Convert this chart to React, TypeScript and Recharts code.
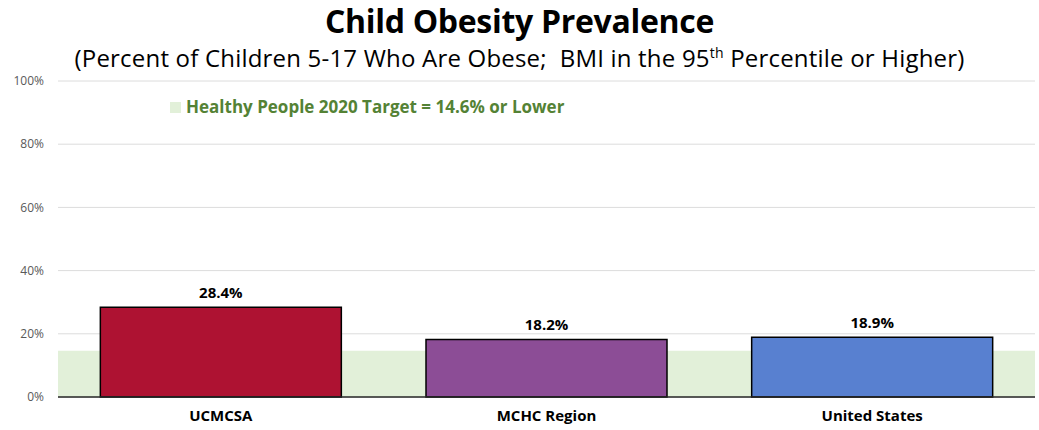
import { BarChart, Bar, Cell, XAxis, YAxis, CartesianGrid, ReferenceArea, LabelList } from 'recharts'

const categories = ['UCMCSA', 'MCHC Region', 'United States']
const prevalence = [28.4, 18.2, 18.9]
const yTicks = [0, 20, 40, 60, 80, 100]
const targetValue = 14.6
const targetLabel = 'Healthy People 2020 Target = 14.6% or Lower'

const BAR_COLORS = ['#AE1232', '#8C4D96', '#5880D0']
const FONT = '"Open Sans", "Noto Sans", sans-serif'

const data = categories.map((name, i) => ({ name, value: prevalence[i] }))

export default function App() {
  return (
    <div style={{ position: 'absolute', left: 0, top: 0, width: 1039, height: 430, background: '#fff', fontFamily: FONT }}>
      <div style={{ position: 'absolute', top: 0, left: 0, width: 1039, textAlign: 'center', fontSize: 32, fontWeight: 700, color: '#000', lineHeight: '42px', letterSpacing: -0.3 }}>
        Child Obesity Prevalence
      </div>
      <div style={{ position: 'absolute', top: 42, left: 0, width: 1039, textAlign: 'center', fontSize: 24, color: '#000', lineHeight: '32px', letterSpacing: 0.2 }}>
        (Percent of Children 5-17 Who Are Obese;&nbsp; BMI in the 95<sup style={{ fontSize: 14, verticalAlign: 'top', lineHeight: '22px' }}>th</sup> Percentile or Higher)
      </div>

      <BarChart width={1039} height={430} data={data} margin={{ top: 81, right: 4, left: 0, bottom: 0 }} barCategoryGap="13%">
        <CartesianGrid vertical={false} stroke="#dcdcdc" />
        <ReferenceArea y1={0} y2={targetValue} fill="#E2F0D9" fillOpacity={1} stroke="none" ifOverflow="visible" />
        <XAxis
          dataKey="name"
          height={33}
          tickSize={0}
          tickMargin={13}
          axisLine={{ stroke: '#262626', strokeWidth: 1.5 }}
          tick={{ fontSize: 15, fontWeight: 700, fill: '#000', fontFamily: FONT }}
        />
        <YAxis
          width={58}
          domain={[0, 100]}
          ticks={yTicks}
          tickSize={0}
          tickMargin={14}
          axisLine={false}
          tickLine={false}
          tickFormatter={(v: number) => `${v}%`}
          tick={{ fontSize: 12, fill: '#595959', fontFamily: FONT }}
        />
        <Bar dataKey="value" stroke="#000" strokeWidth={1.5} isAnimationActive={false}>
          {data.map((_, i) => (
            <Cell key={i} fill={BAR_COLORS[i % BAR_COLORS.length]} />
          ))}
          <LabelList
            dataKey="value"
            position="top"
            offset={9}
            formatter={(v: unknown) => `${Number(v).toFixed(1)}%`}
            style={{ fontSize: 15, fontWeight: 700, fill: '#000', fontFamily: FONT }}
          />
        </Bar>
      </BarChart>

      <div style={{ position: 'absolute', left: 170, top: 96, display: 'flex', alignItems: 'center', gap: 5 }}>
        <span style={{ display: 'inline-block', width: 11, height: 11, background: '#E2F0D9' }} />
        <span style={{ fontSize: 17, fontWeight: 700, color: '#548235', lineHeight: '22px' }}>{targetLabel}</span>
      </div>
    </div>
  )
}
